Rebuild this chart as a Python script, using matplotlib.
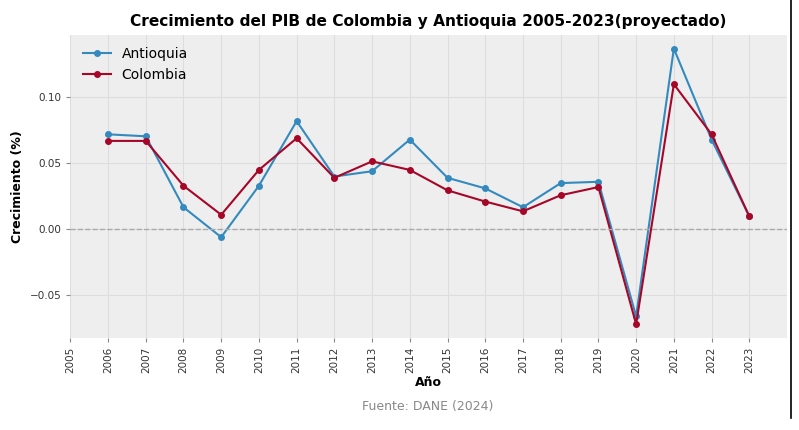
import numpy as np
import matplotlib.pyplot as plt
from matplotlib.lines import Line2D

plt.style.use('bmh')

years = list(range(2006, 2024))
antioquia = [0.072, 0.0705, 0.0167, -0.006, 0.033, 0.082, 0.040, 0.044, 0.068,
             0.039, 0.031, 0.0167, 0.035, 0.036, -0.066, 0.137, 0.068, 0.0098]
colombia = [0.067, 0.067, 0.033, 0.011, 0.045, 0.069, 0.039, 0.0515, 0.045,
            0.0295, 0.021, 0.0136, 0.0258, 0.032, -0.072, 0.110, 0.072, 0.0098]
tick_years = list(range(2005, 2024))

fig = plt.figure(figsize=(7.99, 4.30), dpi=100)
ax = fig.add_axes([0.088, 0.214, 0.897, 0.705])

ax.plot(years, antioquia, marker='o', markersize=4, linewidth=1.5,
        color='#348ABD', label='Antioquia')
ax.plot(years, colombia, marker='o', markersize=4, linewidth=1.5,
        color='#A60628', label='Colombia')
ax.axhline(0, color='#aaaaaa', linestyle='--', linewidth=1)

ax.grid(True, color='#dddddd', linestyle='-', linewidth=0.8)
ax.set_xlim(2005, 2024)
ax.set_xticks(tick_years)
ax.set_xticklabels([str(y) for y in tick_years], rotation=90, fontsize=7.5, color='#333333')
ax.tick_params(axis='y', labelsize=7.5, labelcolor='#333333')
ax.tick_params(direction='out', length=3, color='#888888')
for s in ax.spines.values():
    s.set_visible(False)

ax.set_title('Crecimiento del PIB de Colombia y Antioquia 2005-2023(proyectado)',
             fontsize=11.1, fontweight='bold', pad=6)
ax.set_xlabel('Año', fontsize=9, fontweight='bold')
ax.xaxis.set_label_coords(0.5, -0.125)
ax.set_ylabel('Crecimiento (%)', fontsize=9, fontweight='bold')
ax.legend(loc='upper left', fontsize=10, frameon=False)

fig.text(0.535, 0.047, 'Fuente: DANE (2024)', ha='center', fontsize=9, color='#888888')

# borde derecho de la captura
fig.add_artist(Line2D([0.99, 0.99], [1.0, 0.028], transform=fig.transFigure,
                      color='black', linewidth=1.2))

fig.savefig('out.png', dpi=100, facecolor='white')
